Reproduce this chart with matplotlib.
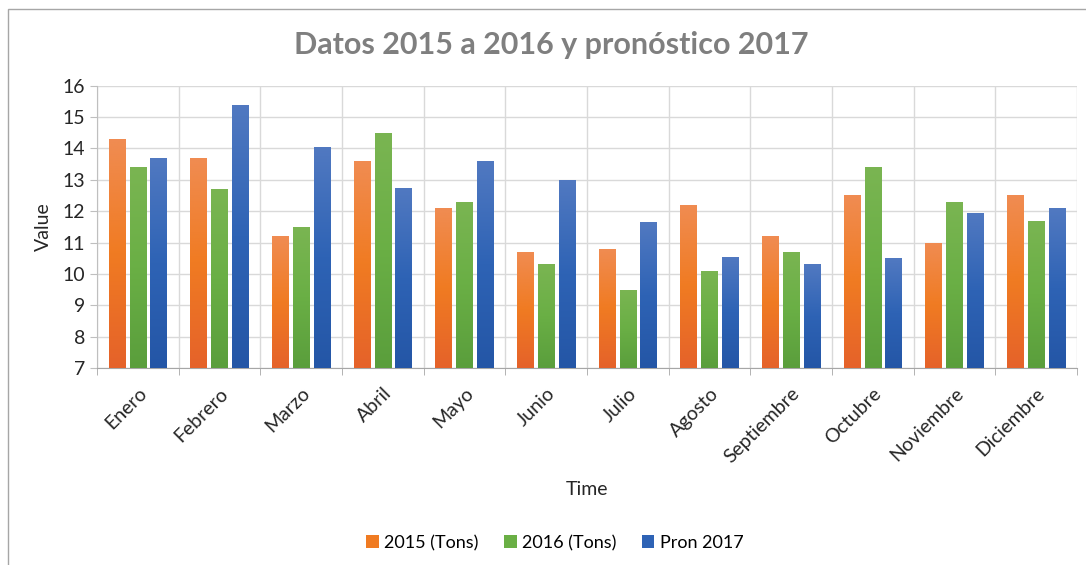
import numpy as np
import matplotlib.pyplot as plt
from matplotlib.colors import LinearSegmentedColormap
from matplotlib.patches import Rectangle

meses = ['Enero', 'Febrero', 'Marzo', 'Abril', 'Mayo', 'Junio', 'Julio',
         'Agosto', 'Septiembre', 'Octubre', 'Noviembre', 'Diciembre']
t2015 = [14.3, 13.7, 11.2, 13.6, 12.1, 10.7, 10.8, 12.2, 11.2, 12.5, 11.0, 12.5]
t2016 = [13.4, 12.7, 11.5, 14.5, 12.3, 10.3, 9.5, 10.1, 10.7, 13.4, 12.3, 11.7]
pron2017 = [13.7, 15.4, 14.05, 12.75, 13.6, 13.0, 11.65, 10.55, 10.3, 10.5, 11.95, 12.1]

series = [('2015 (Tons)', t2015, '#f07b22', ('#f08c52', '#e5622a')),
          ('2016 (Tons)', t2016, '#6aaf45', ('#7ab552', '#5a9e3c')),
          ('Pron 2017', pron2017, '#2e63b5', ('#5179c1', '#2456a6'))]

plt.rcParams['font.family'] = ['Lato', 'DejaVu Sans']

fig = plt.figure(figsize=(10.86, 5.65), dpi=100)
ax = fig.add_axes([0.0893, 0.3487, 0.9024, 0.4996])

# marco exterior
fig.patches.append(Rectangle((0.0075, -0.01), 1.2, 0.994, transform=fig.transFigure,
                             fill=False, edgecolor='#a6a6a6', lw=1.0))

x = np.arange(len(meses))
w = 0.2
gap = 0.055
handles = []
for i, (nombre, vals, col, (c_top, c_bot)) in enumerate(series):
    pos = x + (i - 1) * (w + gap)
    bars = ax.bar(pos, np.array(vals) - 7, w, bottom=7, color=col, zorder=3, label=nombre)
    cmap = LinearSegmentedColormap.from_list('g%d' % i, [c_bot, col, c_top])
    grad = np.linspace(0, 1, 256).reshape(-1, 1)
    for b in bars:
        bx, by = b.get_x(), b.get_y()
        im = ax.imshow(grad, cmap=cmap, origin='lower', aspect='auto',
                       extent=[bx, bx + b.get_width(), by, by + b.get_height()], zorder=3.5)
        im.set_clip_path(b)
    handles.append(bars)

ax.set_xlim(-0.5, len(meses) - 0.5)
ax.set_ylim(7, 16)
ax.set_yticks(range(7, 17))

ax.set_xticks(x)
ax.set_xticklabels(meses, rotation=45, ha='right', rotation_mode='anchor', fontsize=14, color='#262626')
ax.tick_params(axis='x', length=0, pad=12)
ax.set_xticks(np.arange(-0.5, len(meses)), minor=True)
ax.tick_params(axis='x', which='minor', length=5, color='#a6a6a6')
ax.tick_params(axis='y', labelsize=14, labelcolor='#262626', length=5, color='#bfbfbf')

ax.grid(True, which='minor', axis='x', color='#d9d9d9', lw=1, zorder=0)
ax.grid(True, which='major', axis='y', color='#d9d9d9', lw=1, zorder=0)
for s in ['top', 'right']:
    ax.spines[s].set_visible(False)
ax.spines['left'].set_color('#bfbfbf')
ax.spines['bottom'].set_color('#a6a6a6')

fig.text(0.508, 0.92, 'Datos 2015 a 2016 y pronóstico 2017', fontsize=22, fontweight='bold',
         color='#7f7f7f', ha='center', va='center')
ax.set_xlabel('Time', fontsize=14, color='#262626', labelpad=11)
ax.set_ylabel('Value', fontsize=14, color='#262626', labelpad=8)

fig.legend(handles, [s[0] for s in series], loc='center', bbox_to_anchor=(0.511, 0.039),
           ncol=3, frameon=False, fontsize=13, handlelength=0.7, handleheight=0.7,
           handletextpad=0.3, columnspacing=1.4)

fig.savefig('out.png', dpi=100)
